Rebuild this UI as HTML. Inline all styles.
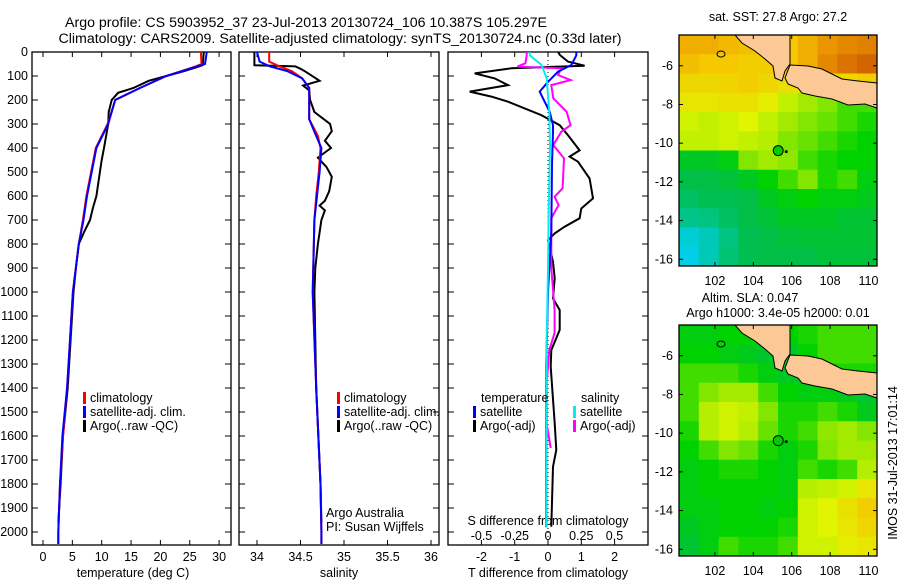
<!DOCTYPE html>
<html><head><meta charset="utf-8"><style>
body{margin:0;background:#fff;}
svg{display:block;font-family:"Liberation Sans",sans-serif;}
text{font-size:12.5px;fill:#000;}
</style></head><body>
<svg id="s" width="900" height="580"></svg>
<script>
// ---- data ----
const tClimDepth=[0,50,60,80,100,150,200,300,400,500,600,700,800,1000,1400,1600,1800,2000,2050];
const tClimVal=[26.9,27.0,26.0,23.5,21,16.5,12.3,11.0,9.0,8.2,7.4,6.8,6.1,5.1,4.1,3.4,2.9,2.6,2.6];
const tSatVal=[27.9,27.6,26.2,23.7,21,16.5,12.3,11.1,9.1,8.3,7.5,6.9,6.1,5.1,4.1,3.3,2.9,2.6,2.6];
const tArgoDepth=[0,55,65,80,100,120,150,170,200,250,300,400,450,500,600,650,700,750,800,900,1000,1200,1400,1600,1800,1960];
const tArgoVal=[27.4,27.2,26,24,21,18,15.4,12.8,11.7,11.2,11.1,10.4,10,9.7,9.1,8.5,8,7,6.1,5.6,5.2,4.7,4.2,3.4,3.0,2.6];
const sClimDepth=[0,40,60,80,110,150,200,280,350,400,500,600,700,1000,1400,1800,2000,2050];
const sClimVal=[34.14,34.14,34.26,34.4,34.52,34.6,34.6,34.6,34.7,34.73,34.71,34.68,34.66,34.64,34.68,34.73,34.74,34.74];
const sSatVal=[34.0,34.03,34.15,34.35,34.52,34.6,34.6,34.6,34.68,34.74,34.72,34.69,34.66,34.64,34.68,34.73,34.74,34.74];
const sArgoDepth=[0,55,60,70,80,120,140,160,200,250,300,330,370,400,440,480,520,580,620,640,660,700,800,900,1000,1400,1800,1960];
const sArgoVal=[33.97,33.97,34.44,34.5,34.55,34.72,34.53,34.6,34.61,34.66,34.84,34.86,34.78,34.85,34.7,34.8,34.86,34.83,34.78,34.72,34.78,34.74,34.7,34.67,34.66,34.68,34.73,34.74];
const dTArgoDepth=[0,13,40,57,68,89,110,138,165,186,207,235,263,305,347,410,436,457,527,610,652,693,728,756,784,874,943,1027,1075,1158,1242,1311,1547,1658,1728,1978];
const dTArgoVal=[0.3,0.36,0.6,1.1,-1.1,-2.2,-1.6,-1.2,-2.35,-1.7,-1.2,-0.7,-0.2,0.35,0.6,0.95,0.65,0.9,1.25,1.35,1.0,0.95,0.5,0.2,0,0.15,0.2,0.15,0.35,0.35,0.1,0.08,0.2,0.25,0.15,0.1];
const dTSatDepth=[0,14,54,82,124,165,193,249,305,332,470,750,1000,1300,1600,1980];
const dTSatVal=[0.85,0.85,0.7,0.3,0.0,-0.25,-0.15,0.05,0.15,0.15,0.12,0.1,0.0,-0.05,-0.05,-0.05];
const dSSatDepth=[0,14,54,110,249,388,665,900,1200,1600,1980];
const dSSatVal=[-0.137,-0.137,-0.048,-0.01,0.01,0.015,0.005,0.0,-0.01,-0.01,-0.01];
const dSArgoDepth=[0,14,47,61,68,96,117,138,193,249,305,332,388,443,568,603,638,693,900,1075,1170,1242,1380,1550,1650];
const dSArgoVal=[-0.16,-0.16,-0.17,-0.23,0.1,0.075,0.17,0.025,0.04,0.14,0.17,0.1,0.04,0.12,0.11,0.05,0.08,0.025,0.025,0.05,0.05,0.01,-0.01,-0.01,0.02];
const sstGrid=[
[.85,.85,.83,.82,.8,.8,.85,.9,.92,.93],
[.82,.8,.8,.78,.78,.8,.85,.92,.95,.97],
[.75,.75,.76,.78,.75,.72,.7,.72,.75,.78],
[.7,.7,.72,.72,.68,.6,.55,.5,.45,.45],
[.62,.6,.62,.65,.6,.55,.5,.48,.45,.42],
[.6,.6,.62,.6,.58,.5,.48,.45,.42,.4],
[.35,.35,.38,.5,.55,.52,.45,.42,.4,.4],
[.3,.3,.32,.35,.4,.45,.5,.42,.45,.38],
[.25,.28,.28,.3,.35,.38,.4,.38,.38,.36],
[.18,.2,.25,.3,.32,.35,.35,.35,.33,.33],
[.05,.1,.2,.28,.3,.32,.33,.33,.33,.33],
[.02,.1,.22,.28,.3,.3,.3,.32,.32,.32]];
const slaGrid=[
[.38,.38,.4,.4,.4,.4,.42,.45,.45,.45],
[.4,.4,.38,.36,.34,.34,.4,.45,.45,.45],
[.45,.45,.45,.42,.38,.35,.35,.4,.42,.42],
[.45,.5,.55,.55,.45,.4,.38,.38,.36,.33],
[.45,.58,.62,.6,.5,.42,.42,.45,.42,.36],
[.42,.58,.62,.58,.48,.42,.45,.52,.55,.5],
[.4,.45,.5,.48,.42,.38,.42,.5,.55,.55],
[.38,.4,.42,.42,.4,.38,.45,.42,.45,.58],
[.38,.4,.4,.4,.4,.38,.58,.6,.62,.7],
[.38,.38,.4,.4,.38,.4,.62,.65,.72,.78],
[.35,.38,.4,.4,.4,.42,.62,.65,.7,.75],
[.33,.38,.45,.42,.42,.45,.62,.62,.68,.7]];
const depthTicks=[0,100,200,300,400,500,600,700,800,900,1000,1100,1200,1300,1400,1500,1600,1700,1800,1900,2000];
const tempTicks=[0,5,10,15,20,25,30];
const salTicks=[34,34.5,35,35.5,36];
const dTTicks=[-2,-1,0,1,2];
const dSTicks=[-0.5,-0.25,0,0.25,0.5];
const latTicks=[-6,-8,-10,-12,-14,-16];
const lonTicks=[102,104,106,108,110];
const argoLon=105.297, argoLat=-10.387;

// ---- scales ----
const S=document.getElementById('s');const NS='http://www.w3.org/2000/svg';
function el(t,a,p){const e=document.createElementNS(NS,t);for(const k in a)e.setAttribute(k,a[k]);(p||S).appendChild(e);return e;}
function txt(x,y,s,anchor,p){const e=el('text',{x:x,y:y,'text-anchor':anchor||'start'},p);e.textContent=s;return e;}
const Y=d=>52+d*0.24;
const xT=v=>43+v*5.87, xS=v=>257+(v-34)*87, xDT=v=>548+v*33.3, xDS=v=>548+v*133;
function line(dep,val,fx,col,name,w){
  const e=el('polyline',{points:dep.map((d,i)=>fx(val[i]).toFixed(1)+','+Y(d).toFixed(1)).join(' '),fill:'none',stroke:col,'stroke-width':w||2});
  
  
}
function frame(x0,x1,name){
  const r=el('rect',{x:x0,y:52,width:x1-x0,height:493,fill:'none',stroke:'#000','stroke-width':1.3});
  
  
  depthTicks.forEach(d=>{el('line',{x1:x0,x2:x0+6,y1:Y(d),y2:Y(d),stroke:'#000'});el('line',{x1:x1,x2:x1-6,y1:Y(d),y2:Y(d),stroke:'#000'});});
}
// titles
const t1=txt(306,27,'Argo profile: CS 5903952_37 23-Jul-2013 20130724_106 10.387S 105.297E','middle');
t1.setAttribute('style','font-size:14.2px');
const t2=txt(340,43,'Climatology: CARS2009. Satellite-adjusted climatology: synTS_20130724.nc (0.33d later)','middle');
t2.setAttribute('style','font-size:14.2px');
// panel 1
frame(32,231,'temperature-panel');
depthTicks.forEach(d=>{const t=txt(28,Y(d)+4,String(d),'end');});
tempTicks.forEach(v=>{el('line',{x1:xT(v),x2:xT(v),y1:545,y2:540,stroke:'#000'});el('line',{x1:xT(v),x2:xT(v),y1:52,y2:57,stroke:'#000'});txt(xT(v),561,String(v),'middle');});
txt(133,577,'temperature (deg C)','middle');
line(tArgoDepth,tArgoVal,xT,'#000','temp-argo-line');
line(tClimDepth,tClimVal,xT,'#f00','temp-climatology-line');
line(tClimDepth,tSatVal,xT,'#00f','temp-satellite-line');
// panel 2
frame(239,439,'salinity-panel');
salTicks.forEach(v=>{el('line',{x1:xS(v),x2:xS(v),y1:545,y2:540,stroke:'#000'});el('line',{x1:xS(v),x2:xS(v),y1:52,y2:57,stroke:'#000'});txt(xS(v),561,String(v),'middle');});
txt(339,577,'salinity','middle');
line(sArgoDepth,sArgoVal,xS,'#000','sal-argo-line');
line(sClimDepth,sClimVal,xS,'#f00','sal-climatology-line');
line(sClimDepth,sSatVal,xS,'#00f','sal-satellite-line');
function legend(x,y,items,name){
  const g=el('g',{});
  items.forEach((it,i)=>{el('rect',{x:x,y:y+i*14-10,width:3,height:12,fill:it[0]},g);txt(x+7,y+i*14,it[1],'start',g);});
}
legend(83,402,[['#f00','climatology'],['#00f','satellite-adj. clim.'],['#000','Argo(..raw -QC)']],'temperature-legend');
legend(337,402,[['#f00','climatology'],['#00f','satellite-adj. clim.'],['#000','Argo(..raw -QC)']],'salinity-legend');
txt(326,517,'Argo Australia');
txt(326,531,'PI: Susan Wijffels');
// panel 3
frame(448,648,'difference-panel');
el('line',{x1:548,x2:548,y1:52,y2:545,stroke:'#000','stroke-dasharray':'1,3'});
dTTicks.forEach(v=>{el('line',{x1:xDT(v),x2:xDT(v),y1:545,y2:540,stroke:'#000'});el('line',{x1:xDT(v),x2:xDT(v),y1:52,y2:57,stroke:'#000'});txt(xDT(v),561,String(v),'middle');});
dSTicks.forEach(v=>{txt(xDS(v),540,String(v),'middle');});
txt(548,525,'S difference from climatology','middle');
txt(548,577,'T difference from climatology','middle');
line(dTArgoDepth,dTArgoVal,xDT,'#000','t-diff-argo-line');
line(dSArgoDepth,dSArgoVal,xDS,'#f0f','s-diff-argo-line');
line(dTSatDepth,dTSatVal,xDT,'#00f','t-diff-satellite-line');
line(dSSatDepth,dSSatVal,xDS,'#0ee','s-diff-satellite-line');
txt(481,402,'temperature');txt(581,402,'salinity');
legend(473,416,[['#00f','satellite'],['#000','Argo(-adj)']],'t-diff-legend');
legend(573,416,[['#0ee','satellite'],['#f0f','Argo(-adj)']],'s-diff-legend');
// maps
const stops=[[0,[0,208,240]],[0.3,[0,190,70]],[0.4,[0,210,0]],[0.5,[130,230,0]],[0.65,[225,245,0]],[0.8,[245,200,0]],[0.9,[235,150,0]],[1,[200,80,0]]];
function cmap(v){for(let i=1;i<stops.length;i++){if(v<=stops[i][0]){const a=stops[i-1],b=stops[i],f=(v-a[0])/(b[0]-a[0]);return 'rgb('+a[1].map((c,k)=>Math.round(c+(b[1][k]-c)*f)).join(',')+')';}}return 'rgb(200,80,0)';}
const sumatra=[[56,0],[111,0],[111,29],[106,36],[103,46],[96,43],[94,31],[86,24],[76,16],[63,8]];
const java=[[111,30],[129,31],[143,34],[163,44],[179,46],[198,48],[198,73],[186,69],[169,70],[153,64],[136,61],[123,58],[119,53],[109,49],[106,43]];
function map(x0,y0,grid,name){
  const g=el('g',{});
  const W=198,H=231,lon0=100.13,lat0=-4.41,px=19.2,py=19.35;
  const mx=l=>x0+(l-lon0)*px, my=l=>y0+(lat0-l)*py;
  const rows=grid.length,cols=grid[0].length,cw=W/cols,ch=H/rows;
  grid.forEach((row,r)=>row.forEach((v,c)=>{const e=el('rect',{x:x0+c*cw,y:y0+r*ch,width:cw+0.5,height:ch+0.5,fill:cmap(v)},g);}));
  [sumatra,java].forEach(p=>{const e=el('polygon',{points:p.map(q=>(x0+q[0])+','+(y0+q[1])).join(' '),fill:'#fbc896',stroke:'#000','stroke-width':1},g);});
  el('ellipse',{cx:x0+42,cy:y0+19,rx:4,ry:3,fill:'none',stroke:'#000'},g);
  el('rect',{x:x0,y:y0,width:W,height:H,fill:'none',stroke:'#000','stroke-width':1.3},g);
  latTicks.forEach(l=>{el('line',{x1:x0,x2:x0+4,y1:my(l),y2:my(l),stroke:'#000'},g);el('line',{x1:x0+W,x2:x0+W-4,y1:my(l),y2:my(l),stroke:'#000'},g);txt(x0-6,my(l)+4,String(l),'end',g);});
  lonTicks.forEach(l=>{el('line',{x1:mx(l),x2:mx(l),y1:y0+H,y2:y0+H-4,stroke:'#000'},g);el('line',{x1:mx(l),x2:mx(l),y1:y0,y2:y0+4,stroke:'#000'},g);txt(mx(l),y0+H+19,String(l),'middle',g);});
  const m=el('circle',{cx:mx(argoLon),cy:my(argoLat),r:5,fill:'#0c0',stroke:'#000'},g);
  
  
  el('circle',{cx:mx(argoLon)+8,cy:my(argoLat)+1,r:1.5,fill:'#000'},g);
}
txt(778,21,'sat. SST: 27.8 Argo: 27.2','middle');
map(679,35,sstGrid,'sst-map');
txt(750,302,'Altim. SLA: 0.047','middle');
txt(778,317,'Argo h1000: 3.4e-05 h2000: 0.01','middle');
map(679,325,slaGrid,'sla-map');
const ts=txt(0,0,'IMOS 31-Jul-2013 17:01:14','middle');
ts.setAttribute('transform','translate(897,463) rotate(-90)');

</script>
</body></html>
